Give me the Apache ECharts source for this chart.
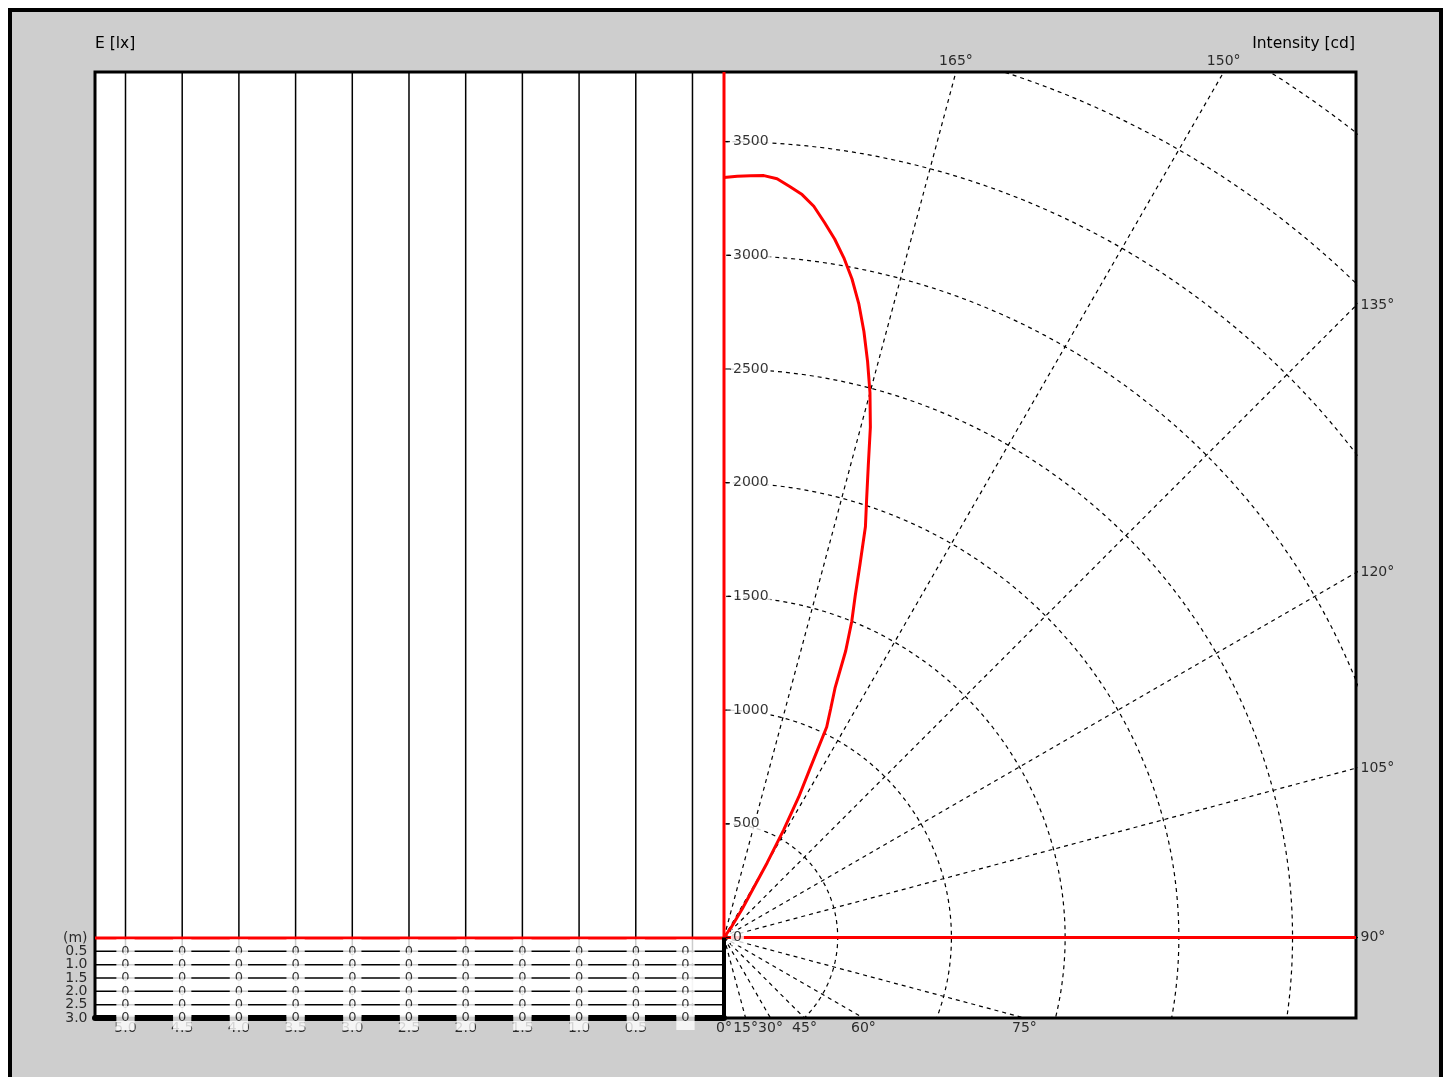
<!DOCTYPE html>
<html><head><meta charset="utf-8">
<script src="https://cdn.jsdelivr.net/npm/echarts@6/dist/echarts.min.js"></script>
<style>
html,body{margin:0;padding:0;background:#fff;width:1447px;height:1077px;overflow:hidden}
#frame{position:absolute;left:8px;top:8px;width:1427px;height:1100px;border:4px solid #000;background:#cecece}
#chart{position:absolute;left:0;top:0;width:1447px;height:1077px}
</style></head><body>
<div id="frame"></div><div id="chart"></div>
<script>
// ---------- data ----------
const distances = [5.0, 4.5, 4.0, 3.5, 3.0, 2.5, 2.0, 1.5, 1.0, 0.5, 0.0];
const distanceLabels = ['5.0', '4.5', '4.0', '3.5', '3.0', '2.5', '2.0', '1.5', '1.0', '0.5', ''];
const heights = [0.5, 1.0, 1.5, 2.0, 2.5, 3.0];
const heightTickValues = [0, 0.5, 1.0, 1.5, 2.0, 2.5, 3.0];
const heightTickLabels = ['(m)', '0.5', '1.0', '1.5', '2.0', '2.5', '3.0'];
const illumRow05 = [0, 0, 0, 0, 0, 0, 0, 0, 0, 0, 0];
const illumRow10 = [0, 0, 0, 0, 0, 0, 0, 0, 0, 0, 0];
const illumRow15 = [0, 0, 0, 0, 0, 0, 0, 0, 0, 0, 0];
const illumRow20 = [0, 0, 0, 0, 0, 0, 0, 0, 0, 0, 0];
const illumRow25 = [0, 0, 0, 0, 0, 0, 0, 0, 0, 0, 0];
const illumRow30 = [0, 0, 0, 0, 0, 0, 0, 0, 0, 0, 0];
const illumRows = [illumRow05, illumRow10, illumRow15, illumRow20, illumRow25, illumRow30];

const gammaDeg = [0, 90, 140, 145, 147.5, 149, 150, 151, 152, 153, 154, 155, 156, 157, 158, 159, 160, 161, 162, 163, 164, 165, 166, 167, 168, 169, 170, 171, 172, 173, 174, 175, 176, 177, 178, 179, 180];
const intensityCd = [0, 0, 0, 60, 150, 230, 380, 540, 700, 830, 1030, 1110, 1200, 1370, 1500, 1610, 1750, 1910, 2030, 2170, 2335, 2480, 2610, 2735, 2850, 2950, 3035, 3110, 3175, 3240, 3285, 3315, 3345, 3355, 3352, 3348, 3342];

const intensityTicks = [0, 500, 1000, 1500, 2000, 2500, 3000, 3500];
const intensityCircles = [500, 1000, 1500, 2000, 2500, 3000, 3500, 4000, 4500];
const radialAngles = [15, 30, 45, 60, 75, 90, 105, 120, 135, 150, 165];
const angleLabelValues = [0, 15, 30, 45, 60, 75, 90, 105, 120, 135, 150, 165];

// ---------- axis extents ----------
const X0MIN = -0.278, X0MAX = 5.269, Y0MIN = -32.475, Y0MAX = 3.0;
const X1MIN = 0, X1MAX = 2779, Y1MIN = -354, Y1MAX = 3806;

const FONT = 'DejaVu Sans';
const rad = d => d * Math.PI / 180;
const polar = (g, r) => [r * Math.sin(rad(g)), -r * Math.cos(rad(g))];

const series = [];
const base = {symbol: 'none', silent: true, animation: false};

// left panel: vertical distance lines
distances.forEach(d => series.push(Object.assign({
  type: 'line', xAxisIndex: 0, yAxisIndex: 0, data: [[d, Y0MIN], [d, Y0MAX]],
  lineStyle: {color: '#000', width: 1.5}, z: 2
}, base)));
// left panel: height rows
heights.forEach(h => series.push(Object.assign({
  type: 'line', xAxisIndex: 0, yAxisIndex: 0, data: [[X0MAX, h], [X0MIN, h]],
  lineStyle: {color: '#000', width: 1.5}, z: 2
}, base)));
// red reference line left
series.push(Object.assign({
  type: 'line', xAxisIndex: 0, yAxisIndex: 0, data: [[X0MAX, 0], [X0MIN, 0]],
  lineStyle: {color: '#ff0000', width: 3}, z: 3
}, base));
// distance labels under left panel
series.push({
  type: 'scatter', xAxisIndex: 0, yAxisIndex: 0, clip: false, silent: true, animation: false,
  symbol: 'circle', symbolSize: 1, itemStyle: {color: 'rgba(0,0,0,0)'}, z: 2,
  data: distances.map((d, i) => [d, Y0MAX, distanceLabels[i]]),
  label: {show: true, position: 'bottom', distance: 3, formatter: p => p.value[2],
    fontFamily: FONT, fontSize: 14, color: '#000'}
});
// height labels left of panel
series.push({
  type: 'scatter', xAxisIndex: 0, yAxisIndex: 0, clip: false, silent: true, animation: false,
  symbol: 'circle', symbolSize: 1, itemStyle: {color: 'rgba(0,0,0,0)'}, z: 2,
  data: heightTickValues.map((h, i) => [X0MAX, h, heightTickLabels[i]]),
  label: {show: true, position: 'left', distance: 7, formatter: p => p.value[2],
    fontFamily: FONT, fontSize: 14, color: '#000'}
});
// illuminance values table
heights.forEach((h, r) => series.push({
  type: 'scatter', xAxisIndex: 0, yAxisIndex: 0, clip: false, silent: true, animation: false,
  symbol: 'circle', symbolSize: 1, itemStyle: {color: 'rgba(0,0,0,0)'}, z: 5 + r,
  data: distances.map((d, i) => {
    const item = {value: [d, h, illumRows[r][i]]};
    if (i === distances.length - 1) item.label = {offset: [-7, 0]};
    return item;
  }),
  label: {show: true, position: 'inside', formatter: p => String(p.value[2]),
    fontFamily: FONT, fontSize: 13, lineHeight: 14, color: '#000',
    backgroundColor: '#fff', padding: [5, 5, 5, 5]}
}));

// right panel: dashed circles
intensityCircles.forEach(R => {
  const pts = [];
  for (let g = 0; g <= 180; g += 1) pts.push(polar(g, R));
  series.push(Object.assign({
    type: 'line', xAxisIndex: 1, yAxisIndex: 1, data: pts, clip: true,
    lineStyle: {color: '#000', width: 1.2, type: [4, 4]}, z: 2
  }, base));
});
// dashed radial lines
radialAngles.forEach(g => series.push(Object.assign({
  type: 'line', xAxisIndex: 1, yAxisIndex: 1, data: [[0, 0], polar(g, 8000)], clip: true,
  lineStyle: {color: '#000', width: 1.2, type: [4, 4]}, z: 2
}, base)));
// red axes right
series.push(Object.assign({
  type: 'line', xAxisIndex: 1, yAxisIndex: 1, data: [[0, 0], [0, Y1MAX]], clip: false,
  lineStyle: {color: '#ff0000', width: 3}, z: 3
}, base));
series.push(Object.assign({
  type: 'line', xAxisIndex: 1, yAxisIndex: 1, data: [[0, 0], [X1MAX, 0]], clip: true,
  lineStyle: {color: '#ff0000', width: 3}, z: 3
}, base));
// black separator below origin
series.push(Object.assign({
  type: 'line', xAxisIndex: 1, yAxisIndex: 1, data: [[0, Y1MIN], [0, 0]], clip: false,
  lineStyle: {color: '#000', width: 4}, z: 6
}, base));
// intensity curve
series.push(Object.assign({
  type: 'line', xAxisIndex: 1, yAxisIndex: 1, clip: true,
  data: gammaDeg.map((g, i) => polar(g, intensityCd[i])),
  lineStyle: {color: '#ff0000', width: 3}, z: 4
}, base));
// intensity tick labels
series.push({
  type: 'scatter', xAxisIndex: 1, yAxisIndex: 1, clip: false, silent: true, animation: false,
  symbol: 'rect', symbolSize: [4, 1.3], symbolOffset: [4, 0], itemStyle: {color: '#000'}, z: 10,
  data: intensityTicks.map(v => [0, v]),
  label: {show: true, position: 'right', distance: 1, formatter: p => String(p.value[1]),
    fontFamily: FONT, fontSize: 14, color: '#000', backgroundColor: '#fff', padding: [1, 2, 1, 2]}
});
// angle labels at the frame edges
function edgePoint(g) {
  const s = Math.sin(rad(g)), c = Math.cos(rad(g));
  let best = Infinity, edge = 'right';
  if (s > 1e-9) { const t = X1MAX / s; if (t < best) { best = t; edge = 'right'; } }
  if (c > 1e-9) { const t = -Y1MIN / c; if (t < best) { best = t; edge = 'bottom'; } }
  if (c < -1e-9) { const t = Y1MAX / (-c); if (t < best) { best = t; edge = 'top'; } }
  return {pt: [best * s, -best * c], edge: edge};
}
series.push({
  type: 'scatter', xAxisIndex: 1, yAxisIndex: 1, clip: false, silent: true, animation: false,
  symbol: 'circle', symbolSize: 1, itemStyle: {color: 'rgba(0,0,0,0)'}, z: 10,
  data: angleLabelValues.map(g => {
    const e = edgePoint(g);
    return {value: [e.pt[0], e.pt[1], g],
      label: {position: e.edge, distance: e.edge === 'right' ? 4 : 3}};
  }),
  label: {show: true, formatter: p => p.value[2] + '°', fontFamily: FONT, fontSize: 14, color: '#000'}
});

const hiddenAxis = {axisLine: {show: false}, axisTick: {show: false}, axisLabel: {show: false}, splitLine: {show: false}};

const option = {
  animation: false,
  backgroundColor: 'transparent',
  grid: [
    {left: 95, top: 72, width: 629, height: 946, show: true, backgroundColor: '#fff', borderWidth: 0},
    {left: 724, top: 72, width: 632, height: 946, show: true, backgroundColor: '#fff', borderWidth: 0}
  ],
  xAxis: [
    Object.assign({}, hiddenAxis, {type: 'value', gridIndex: 0, min: X0MIN, max: X0MAX, inverse: true,
      position: 'bottom', axisLine: {show: true, onZero: false, lineStyle: {color: '#000', width: 6}}}),
    Object.assign({type: 'value', gridIndex: 1, min: X1MIN, max: X1MAX}, hiddenAxis)
  ],
  yAxis: [
    Object.assign({type: 'value', gridIndex: 0, min: Y0MIN, max: Y0MAX, inverse: true}, hiddenAxis),
    Object.assign({type: 'value', gridIndex: 1, min: Y1MIN, max: Y1MAX}, hiddenAxis)
  ],
  graphic: [
    {type: 'rect', silent: true, z: 1, shape: {x: 95, y: 72, width: 1261, height: 946},
      style: {fill: 'transparent', stroke: '#000', lineWidth: 3}},
    {type: 'text', silent: true, z: 1, x: 95, y: 44,
      style: {text: 'E [lx]', font: '15.5px "DejaVu Sans"', fill: '#000', textAlign: 'left', textVerticalAlign: 'middle'}},
    {type: 'text', silent: true, z: 1, x: 1355, y: 44,
      style: {text: 'Intensity [cd]', font: '15.5px "DejaVu Sans"', fill: '#000', textAlign: 'right', textVerticalAlign: 'middle'}}
  ],
  series: series
};

const chart = echarts.init(document.getElementById('chart'), null, {renderer: 'canvas'});
chart.setOption(option);
</script>
</body></html>
